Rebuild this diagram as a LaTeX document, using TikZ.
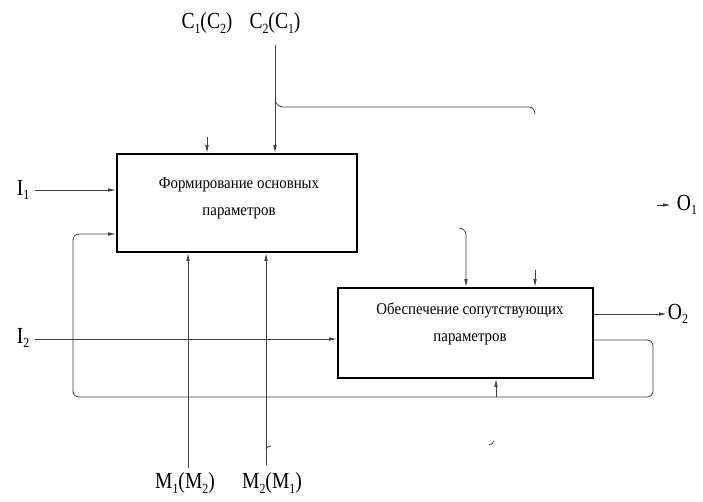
\documentclass[tikz,border=0pt]{standalone}
\usepackage{fontspec}
\setmainfont{Liberation Serif}
\newfontfamily\boxfnt[FakeStretch=0.9]{Liberation Serif}
\newfontfamily\lblfnt[FakeStretch=0.85]{Liberation Serif}
\newcommand{\sbs}[1]{\raisebox{-0.2em}{\fontsize{14}{14}\selectfont #1}}
\usetikzlibrary{arrows.meta}
\begin{document}
\begin{tikzpicture}[x=1pt,y=-1pt,
  box/.style={draw=black,line width=1.6pt,inner sep=0pt,fill=none},
  boxtext/.style={align=center,inner sep=0pt,font=\boxfnt\fontsize{16.5}{27}\selectfont},
  lbl/.style={inner sep=0pt,font=\lblfnt\fontsize{23}{24}\selectfont},
  wire/.style={draw=black!75,line width=0.8pt},
  arr/.style={wire,-{Latex[length=8pt,width=3.5pt]}},
]
\useasboundingbox (0,0) rectangle (703,501);
% boxes
\node[box,minimum width=240pt,minimum height=98pt] (b1) at (237,203) {};
\node[box,minimum width=255pt,minimum height=90pt] (b2) at (465.5,333) {};
\node[boxtext] (t1) at (239,198.5) {Формирование основных\\параметров};
\node[boxtext] (t2) at (470,323.5) {Обеспечение сопутствующих\\параметров};
% labels
\node[lbl] (lc1) at (207,23) {C\sbs{1}(C\sbs{2})};
\node[lbl] (lc2) at (275,23) {C\sbs{2}(C\sbs{1})};
\node[lbl] (li1) at (23,190) {I\sbs{1}};
\node[lbl] (li2) at (23,338) {I\sbs{2}};
\node[lbl] (lo1) at (687,205) {O\sbs{1}};
\node[lbl] (lo2) at (678,314) {O\sbs{2}};
\node[lbl] (lm1) at (185,483) {M\sbs{1}(M\sbs{2})};
\node[lbl] (lm2) at (272,483) {M\sbs{2}(M\sbs{1})};
% coordinates
\coordinate (c2s) at (275,45);
\coordinate (c1s) at (207,137);
\coordinate (i1s) at (35,190);
\coordinate (i2s) at (35,339);
\coordinate (m1s) at (188,468);
\coordinate (m2s) at (266,465);
\coordinate (o1s) at (657,205);
\coordinate (o1e) at (671,205);
\coordinate (o2e) at (667,314);
\coordinate (s1) at (459,228);
\coordinate (s1b) at (466,234);
\coordinate (s2) at (535,270);
\coordinate (fbA) at (653,340);
\coordinate (fbR) at (653,397);
\coordinate (fbL) at (73,397);
\coordinate (fbT) at (73,234);
\coordinate (fbS) at (496,397);
\coordinate (wa) at (275,101);
\coordinate (wb) at (283,107);
\coordinate (wc) at (529,107);
\coordinate (wd) at (535,114);
% connectors into box 1
\draw[arr] (c2s) -- (c2s |- b1.north);
\draw[arr] (c1s) -- (c1s |- b1.north);
\draw[arr] (i1s) -- (i1s -| b1.west);
\draw[arr] (m1s) -- (m1s |- b1.south);
\draw[arr] (m2s) -- (m2s |- b1.south);
% upper wire
\draw[wire] (wa) to[out=-60,in=180] (wb) -- (wc) to[out=0,in=90] (wd);
% into box 2
\draw[arr] (s1) to[out=-10,in=90] (s1b) -- (s1b |- b2.north);
\draw[arr] (s2) -- (s2 |- b2.north);
\draw[arr] (i2s) -- (i2s -| b2.west);
\draw[arr] (fbS) -- (fbS |- b2.south);
% outputs
\draw[arr] (o2e -| b2.east) -- (o2e);
\draw[arr] (o1s) -- (o1e);
% feedback loop
\draw[arr,rounded corners=6pt] (fbA -| b2.east) -- (fbA) -- (fbR) -- (fbL) -- (fbT) -- (fbT -| b1.west);
% small fragments
\draw[wire] (266,449) to[out=60,in=180] (271,446);
\draw[wire] (489,445) to[out=0,in=-120] (494,441);
\end{tikzpicture}
\end{document}
